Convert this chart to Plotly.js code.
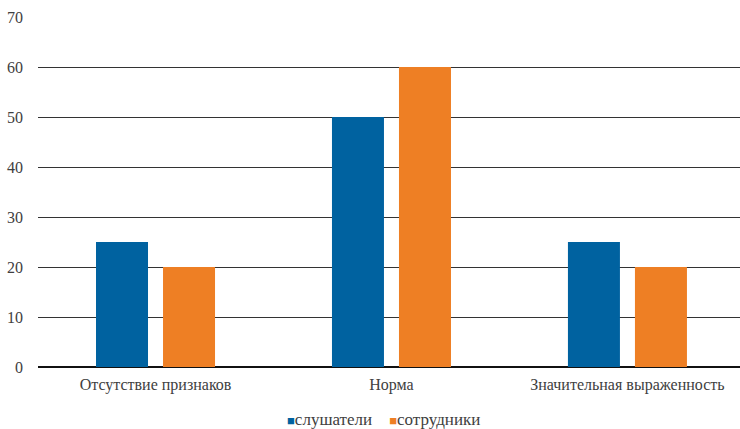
<!DOCTYPE html>
<html>
<head>
<meta charset="utf-8">
<script src="https://cdn.plot.ly/plotly-3.0.1.min.js"></script>
<style>html,body{margin:0;padding:0;background:#fff;}#chart{width:740px;height:429px;}</style>
</head>
<body>
<div id="chart"></div>
<script>
const categories = ["Отсутствие признаков", "Норма", "Значительная выраженность"];
const seriesNames = ["слушатели", "сотрудники"];
const listeners = [25, 50, 25];
const staff = [20, 60, 20];
const yTicks = [0, 10, 20, 30, 40, 50, 60, 70];
const colors = ["#0062A0", "#EE7F24"];

const font = {family: "Liberation Serif", size: 16, color: "#404040"};
const legendFont = {family: "Liberation Serif", size: 17, color: "#404040"};
const data = [
  {type: "bar", x: categories, y: listeners, name: seriesNames[0], marker: {color: colors[0]}},
  {type: "bar", x: categories, y: staff, name: seriesNames[1], marker: {color: colors[1]}}
];
const legendText = seriesNames.map((n, i) =>
  "<span style='color:" + colors[i] + ";font-size:13px'>■</span>" + n).join("&nbsp;&nbsp;&nbsp;&nbsp;");
const layout = {
  width: 740, height: 429,
  margin: {l: 38, r: 0, t: 17, b: 62},
  paper_bgcolor: "#fff", plot_bgcolor: "#fff",
  font: font,
  barmode: "group", bargap: 0.432, bargroupgap: 0.224,
  xaxis: {range: [-0.498, 2.477], showgrid: false, showline: false, ticks: "", tickfont: font, zeroline: false, ticklabelstandoff: 6},
  yaxis: {range: [0, 70], tickvals: yTicks, showgrid: true, gridcolor: "#333", gridwidth: 1, zeroline: true, zerolinecolor: "#111", zerolinewidth: 2, ticks: "", ticklabelstandoff: 14, tickfont: font, showline: false},
  showlegend: false,
  annotations: [{
    text: legendText, xref: "paper", yref: "paper", x: 0.492, y: -0.151,
    xanchor: "center", yanchor: "middle", showarrow: false, font: legendFont
  }]
};
Plotly.newPlot("chart", data, layout, {staticPlot: true});
</script>
</body>
</html>
